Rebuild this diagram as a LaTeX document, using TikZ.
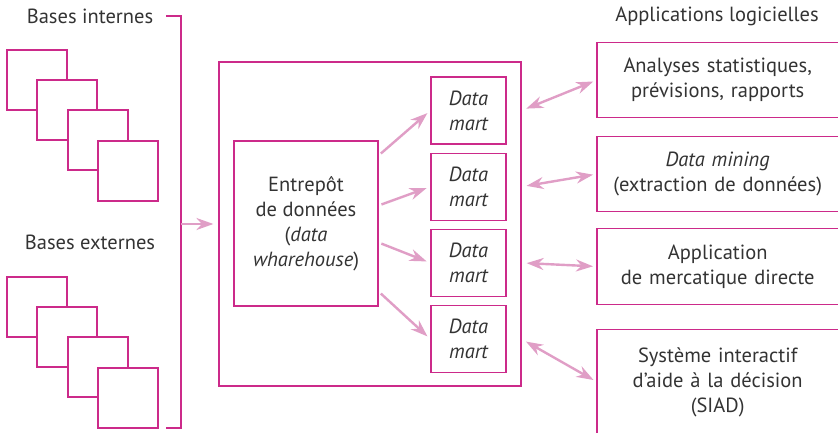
\documentclass[tikz,border=0pt]{standalone}
\usepackage{fontspec}
\setmainfont{PT Sans}
\usepackage{tikz}
\usetikzlibrary{arrows.meta}
\usetikzlibrary{positioning}
\definecolor{rose}{RGB}{204,42,138}
\definecolor{pale}{RGB}{224,158,198}
\definecolor{ink}{RGB}{51,51,51}

\begin{document}
\begin{tikzpicture}[x=1pt,y=-1pt,text=ink,font=\fontsize{20.5}{25}\selectfont]
	 \tikzstyle{box}=[draw=rose,line width=1.2pt,fill=white,inner sep=0pt]
	 \tikzstyle{base}=[box,minimum size=60pt]
	 \tikzstyle{mart}=[box,minimum width=75pt,minimum height=67pt,align=center,font=\fontsize{20.5}{25}\selectfont\itshape]
	 \tikzstyle{app}=[inner sep=0pt,text width=241pt,align=center,anchor=west]
	 \tikzstyle{frame}=[draw=rose,line width=1.2pt]
	 \tikzstyle{flow}=[draw=pale,line width=2.4pt,-{Stealth[length=17pt,width=12pt]}]
	 \tikzstyle{biflow}=[draw=pale,line width=2.4pt,{Stealth[length=17pt,width=12pt]}-{Stealth[length=17pt,width=12pt]}]
	 \clip (0,0) rectangle (838,433);

	 % sources
	 \node (bi) at (90,16) {Bases internes};
	 \node[base] (i1) at (37,80) {};
	 \node[base] (i2) at (67,110) {};
	 \node[base] (i3) at (98,140) {};
	 \node[base] (i4) at (128,171) {};
	 \node (be) at (90,242) {Bases externes};
	 \node[base] (e1) at (37,307) {};
	 \node[base] (e2) at (67,337) {};
	 \node[base] (e3) at (98,367) {};
	 \node[base] (e4) at (128,398) {};

	 \coordinate (bt) at (181,16);
	 \coordinate (bb) at (181,428);
	 \coordinate (bm) at (181,224);
	 \draw[frame] ([xshift=-15pt]bt) -- (bt) -- (bb) -- ([xshift=-15pt]bb);

	 % entrepot
	 \node[box,minimum width=302pt,minimum height=324pt] (wh) at (370,224) {};
	 \node[box,minimum width=144pt,minimum height=165pt,align=center] (dw) at (306,223.5)
	   {Entrep\^ot\\de donn\'ees\\(\textit{data}\\\textit{wharehouse})};
	 \node[mart] (dm1) at (468.5,110.5) {Data\\mart};
	 \node[mart,below=8pt of dm1] (dm2) {Data\\mart};
	 \node[mart,below=8pt of dm2] (dm3) {Data\\mart};
	 \node[mart,below=8pt of dm3] (dm4) {Data\\mart};

	 \draw[flow,shorten >=5pt] (bm) -- (wh.west);
	 \draw[flow,shorten <=3pt,shorten >=4pt] ([yshift=68pt]dw.east) -- (dm1.west);
	 \draw[flow,shorten <=3pt,shorten >=4pt] ([yshift=18pt]dw.east) -- (dm2.west);
	 \draw[flow,shorten <=3pt,shorten >=4pt] ([yshift=-19pt]dw.east) -- (dm3.west);
	 \draw[flow,shorten <=3pt,shorten >=4pt] ([yshift=-68pt]dw.east) -- (dm4.west);

	 % applications
	 \node (al) at (717,16) {Applications logicielles};
	 \node[app,minimum height=74pt] (app1) at (597,80) {Analyses statistiques,\\pr\'evisions, rapports};
	 \node[app,minimum height=74pt] (app2) at (597,174) {\textit{Data mining}\\(extraction de donn\'ees)};
	 \node[app,minimum height=75pt] (app3) at (597,266.5) {Application\\de mercatique directe};
	 \node[app,minimum height=104pt] (app4) at (597,382) {Syst\`eme interactif\\d'aide \`a la d\'ecision\\(SIAD)};
	 \draw[frame] ([xshift=20pt]app1.north east) -- (app1.north west) -- (app1.south west) -- ([xshift=20pt]app1.south east);
	 \draw[frame] ([xshift=20pt]app2.north east) -- (app2.north west) -- (app2.south west) -- ([xshift=20pt]app2.south east);
	 \draw[frame] ([xshift=20pt]app3.north east) -- (app3.north west) -- (app3.south west) -- ([xshift=20pt]app3.south east);
	 \draw[frame] ([xshift=20pt]app4.north east) -- (app4.north west) -- ([yshift=-10pt]app4.south west);

	 \draw[biflow,shorten <=5pt,shorten >=4pt] (wh.east |- dm1) -- (app1.west);
	 \draw[biflow,shorten <=5pt,shorten >=4pt] (wh.east |- dm2) -- (app2.west);
	 \draw[biflow,shorten <=5pt,shorten >=4pt] (wh.east |- dm3) -- (app3.west);
	 \draw[biflow,shorten <=5pt,shorten >=4pt] (wh.east |- dm4) -- (app4.west);

 \end{tikzpicture}
\end{document}
